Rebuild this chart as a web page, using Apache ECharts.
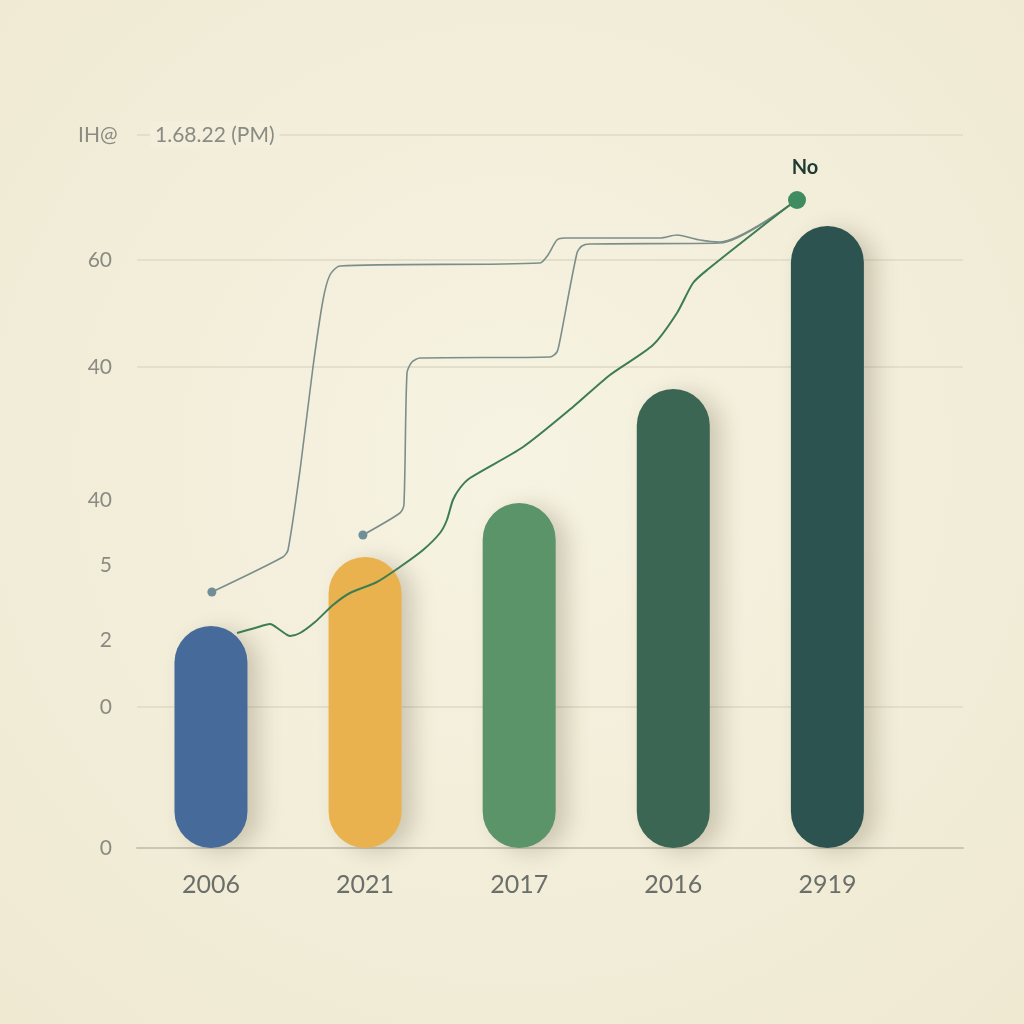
<!DOCTYPE html>
<html>
<head>
<meta charset="utf-8">
<script src="https://cdn.jsdelivr.net/npm/echarts@6/dist/echarts.min.js"></script>
<style>html,body{margin:0;padding:0;}#c{width:1024px;height:1024px;}</style>
</head>
<body>
<div id="c"></div>
<script>
// Categories and bar values (y in chart units)
const categories = ['2006', '2021', '2017', '2016', '2919'];
const barValues = [222, 291, 345, 459, 622];
const barColors = ['#466a9a', '#e9b24f', '#5a9468', '#3b6653', '#2d5350'];

// Y tick positions and their labels
const yTickValues = [0, 141, 208, 283, 348, 481, 588];
const yTickLabels = ['0', '0', '2', '5', '40', '40', '60'];
const gridLineValues = [141, 481, 588, 713];
const topLabelValue = 713;
const topLabelA = 'IH@';
const topLabelB = '1.68.22 (PM)';

// Line series: [x (category position), y]
const grayLine1 = [[0.006,256],[0.467,291],[0.50,298],[0.578,378],[0.662,481],[0.727,548],[0.772,573],[0.837,582],[2.135,585],[2.187,593],[2.245,608],[2.297,610],[2.914,610],[3.024,613],[3.173,608],[3.303,606],[3.803,648]];
const grayLine2 = [[0.986,313],[1.226,335],[1.252,343],[1.272,475],[1.304,486],[1.356,490],[2.2,491],[2.245,496],[2.265,508],[2.375,595],[2.407,602],[2.459,604],[3.303,605],[3.803,648]];
const greenLine = [[0.169,215],[0.286,220],[0.383,224],[0.448,218],[0.513,212],[0.578,215],[0.675,226],[0.792,243],[0.902,255],[1.077,266],[1.226,281],[1.376,298],[1.486,315],[1.531,328],[1.570,348],[1.616,360],[1.681,370],[2.025,401],[2.349,441],[2.589,473],[2.868,503],[3.024,535],[3.128,565],[3.219,578],[3.738,641],[3.803,648]];
const endLabel = 'No';

const chart = echarts.init(document.getElementById('c'));
const barData = barValues.map((v, i) => ({
  value: [i, v],
  itemStyle: { color: barColors[i] }
}));

chart.setOption({
  backgroundColor: {
    type: 'radial', x: 0.5, y: 0.45, r: 0.75,
    colorStops: [{ offset: 0, color: '#f7f3e2' }, { offset: 1, color: '#efe9d2' }]
  },
  animation: false,
  grid: { left: 137, right: 61, top: 135, bottom: 176 },
  xAxis: {
    type: 'value', min: -0.48, max: 4.88,
    axisLine: { show: true, lineStyle: { color: '#c9c6b6', width: 2 } },
    axisTick: { show: false },
    splitLine: { show: false },
    axisLabel: {
      customValues: [0, 1, 2, 3, 4],
      formatter: v => categories[Math.round(v)],
      color: '#6b6f69', fontSize: 25, fontFamily: 'Lato', margin: 24
    }
  },
  yAxis: [{
    type: 'value', min: 0, max: 713,
    axisLine: { show: false }, axisTick: { show: false }, splitLine: { show: false },
    axisLabel: {
      customValues: yTickValues,
      formatter: v => yTickLabels[yTickValues.indexOf(v)],
      color: '#8a8b82', fontSize: 21, fontFamily: 'Lato', margin: 25, align: 'right'
    }
  }, {
    type: 'value', min: 0, max: 713, position: 'left', z: 3,
    axisLine: { show: false }, axisTick: { show: false }, splitLine: { show: false },
    axisLabel: {
      customValues: [topLabelValue],
      formatter: () => '{a|' + topLabelA + '}{b|' + topLabelB + '}',
      align: 'left', margin: 59,
      rich: {
        a: { color: '#8a8b82', fontSize: 21, fontFamily: 'Lato', width: 72 },
        b: { color: '#8a8b82', fontSize: 21, fontFamily: 'Lato', backgroundColor: '#f3efdc', padding: [3, 5] }
      }
    }
  }],
  series: [{
    type: 'line', data: [], silent: true, z: 1,
    markLine: {
      symbol: 'none', silent: true, label: { show: false }, z: 1,
      lineStyle: { color: '#e4dfca', width: 2, type: 'solid' },
      data: gridLineValues.map(v => ({ yAxis: v }))
    }
  }, {
    type: 'bar', data: barData, barWidth: 73, z: 4,
    itemStyle: {
      borderRadius: 37,
      shadowColor: 'rgba(70,60,30,0.22)', shadowBlur: 22, shadowOffsetX: 12, shadowOffsetY: 4
    }
  }, {
    type: 'line', data: grayLine1, smooth: 0.25, z: 5,
    lineStyle: { color: '#7b8e8a', width: 1.6 },
    symbol: 'circle', symbolSize: (v, p) => p.dataIndex === 0 ? 9 : 0,
    itemStyle: { color: '#6f8e97' }
  }, {
    type: 'line', data: grayLine2, smooth: 0.25, z: 5,
    lineStyle: { color: '#7b8e8a', width: 1.6 },
    symbol: 'circle', symbolSize: (v, p) => p.dataIndex === 0 ? 9 : 0,
    itemStyle: { color: '#6f8e97' }
  }, {
    type: 'line', data: greenLine, smooth: 0.25, z: 6,
    lineStyle: { color: '#3c7d53', width: 2 },
    symbol: 'circle',
    symbolSize: (v, p) => p.dataIndex === greenLine.length - 1 ? 18 : 0,
    itemStyle: { color: '#3e8c5f' },
    label: {
      show: true,
      formatter: p => p.dataIndex === greenLine.length - 1 ? endLabel : '',
      position: 'top', offset: [8, -8],
      color: '#1f3a31', fontSize: 20, fontWeight: 'bold', fontFamily: 'Lato'
    }
  }]
});
</script>
</body>
</html>
